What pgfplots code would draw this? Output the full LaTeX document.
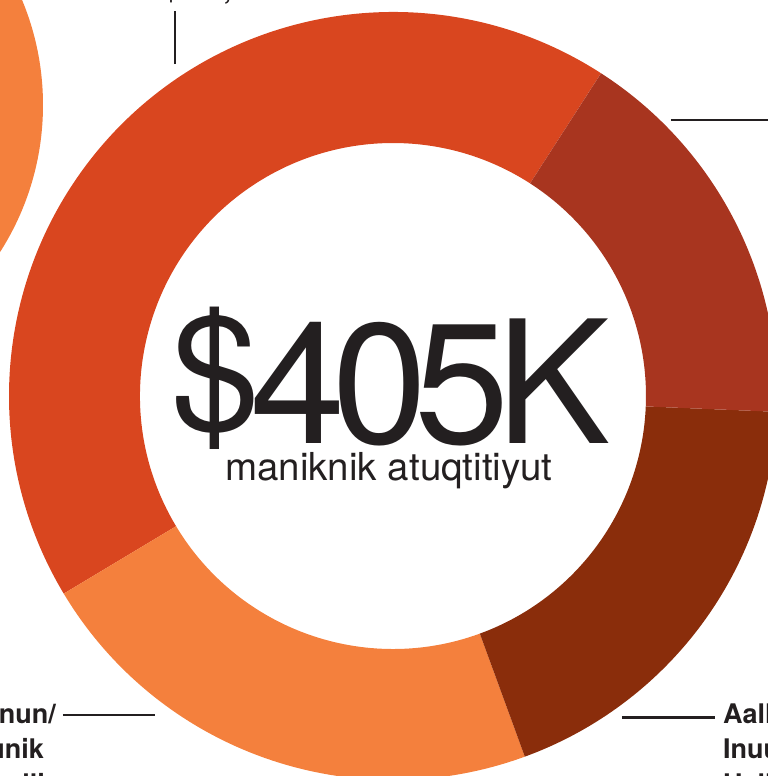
\documentclass[border=0pt]{standalone}
\usepackage{pgfplots}
\pgfplotsset{compat=1.18}
\usepackage{fontspec}
\setmainfont{TeX Gyre Heros}
\definecolor{segA}{HTML}{D9461F}
\definecolor{segB}{HTML}{F4803D}
\definecolor{segC}{HTML}{8A2D0B}
\definecolor{segD}{HTML}{A8351F}
\definecolor{ink}{HTML}{231F20}

% one slice of the ring: start angle, end angle, colour
\newcommand\ring[3]{%
  \fill[#3] (axis cs:{393+384*cos(#1)},{380+384*sin(#1)})
    arc[start angle=#1, end angle=#2, radius=384bp]
    -- (axis cs:{393+253*cos(#2)},{380+253*sin(#2)})
    arc[start angle=#2, end angle=#1, radius=253bp] -- cycle;}

\begin{document}
\begin{tikzpicture}
\useasboundingbox (0,0) rectangle (768bp,776bp);
\clip (0,0) rectangle (768bp,776bp);
% slice values, thousands of dollars (total 405)
\def\vA{173}\def\vB{89}\def\vC{76}\def\vD{67}
\pgfmathsetmacro\tot{\vA+\vB+\vC+\vD}
\pgfmathsetmacro\aA{57.2}
\pgfmathsetmacro\aB{\aA+\vA/\tot*360}
\pgfmathsetmacro\aC{\aB+\vB/\tot*360}
\pgfmathsetmacro\aD{\aC+\vC/\tot*360}
\pgfmathsetmacro\aE{\aD+\vD/\tot*360}
\begin{axis}[
    at={(0,0)}, anchor=south west,
    scale only axis,
    x=1bp, y=1bp,
    xmin=0, xmax=768, ymin=0, ymax=776,
    hide axis, clip=false,
  ]
  % neighbouring chart, cut off at the left
  \fill[segB] (axis cs:-230,671) circle[radius=273bp];

  \ring{\aA}{\aB}{segA}
  \ring{\aB}{\aC}{segB}
  \ring{\aC}{\aD}{segC}
  \ring{\aD}{\aE}{segD}

  % centre text
  \node[anchor=base, text=ink, inner sep=0pt,
        font=\fontsize{171bp}{171bp}\selectfont]
    at (axis cs:391,333) {\raisebox{14bp}{\fontsize{159bp}{159bp}\selectfont\$}\kern-10bp 4\kern-13bp 0\kern-13bp 5\kern-13bp K};
  \node[anchor=base, text=ink, inner sep=0pt,
        font=\fontsize{38.5bp}{40bp}\selectfont]
    at (axis cs:389,296) {maniknik atuqtitiyut};

  % leader lines
  \draw[ink, line width=2.6bp] (axis cs:175,712) -- (axis cs:175,765);
  \draw[ink, line width=2.6bp] (axis cs:671,656) -- (axis cs:780,656);
  \draw[ink, line width=2.6bp] (axis cs:63,61) -- (axis cs:155,61);
  \draw[ink, line width=2.6bp] (axis cs:622,58.5) -- (axis cs:715,58.5);

  % labels, mostly outside the frame
  \begin{scope}[every node/.style={text=ink, inner sep=0pt,
        font=\fontsize{27bp}{35bp}\selectfont\bfseries}]
    \node[anchor=base] at (axis cs:220,776.5) {\$173,000};
    \node[anchor=base west] at (axis cs:723,53) {Aallanut};
    \node[anchor=base west] at (axis cs:723,18) {Inuunnut};
    \node[anchor=base west] at (axis cs:723,-17) {Halluqtiit};
    \node[anchor=base east] at (axis cs:56,53) {Inuusirnun/};
    \node[anchor=base east] at (axis cs:44,18) {Ikajuqtiunik};
    \node[anchor=base east] at (axis cs:45,-17) {Ilinniarvalli};
  \end{scope}
\end{axis}
\end{tikzpicture}
\end{document}
